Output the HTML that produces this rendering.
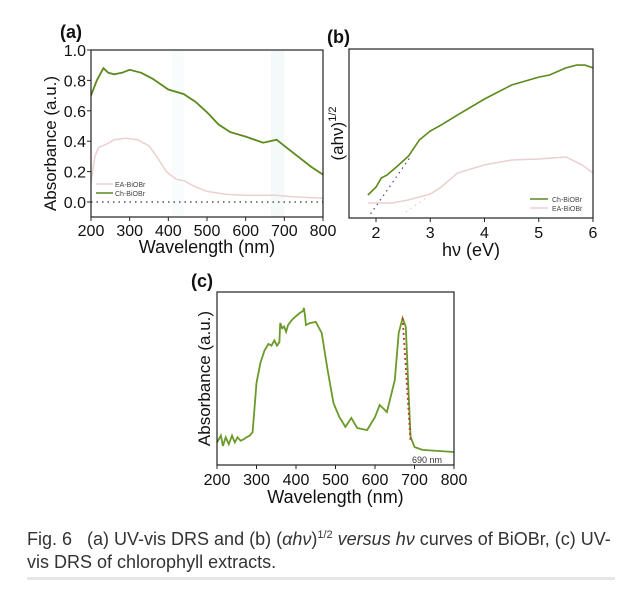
<!DOCTYPE html>
<html><head><meta charset="utf-8"><style>
body{margin:0;background:#fff;width:640px;height:584px;overflow:hidden;font-family:"Liberation Sans",sans-serif}
svg text{font-family:"Liberation Sans",sans-serif}
</style></head><body>
<svg id="fig" width="640" height="584" viewBox="0 0 640 584"></svg>
<script>
// Panel a data
const aWl = [200,215,232,245,260,280,300,330,360,400,440,470,500,530,560,600,645,680,700,740,770,800];
const aCh = [0.7,0.8,0.88,0.85,0.84,0.85,0.87,0.85,0.81,0.74,0.71,0.66,0.59,0.51,0.46,0.43,0.39,0.41,0.37,0.29,0.23,0.18];
const aEaWl = [200,210,220,240,260,290,320,350,370,395,420,440,470,500,550,600,680,720,800];
const aEa = [0.13,0.3,0.36,0.38,0.41,0.42,0.41,0.37,0.3,0.2,0.15,0.14,0.1,0.07,0.05,0.045,0.045,0.035,0.025];
const aYTicks = [0.0,0.2,0.4,0.6,0.8,1.0];
const aXTicks = [200,300,400,500,600,700,800];
// Panel b data
const bChE = [1.85,2.0,2.1,2.2,2.4,2.6,2.8,3.0,3.2,3.5,4.0,4.5,5.0,5.2,5.5,5.7,5.85,6.0];
const bCh = [0.136,0.183,0.237,0.254,0.308,0.367,0.462,0.515,0.55,0.609,0.704,0.787,0.834,0.846,0.888,0.905,0.905,0.888];
const bEaE = [1.85,2.3,2.6,3.0,3.2,3.5,4.0,4.5,5.0,5.5,5.8,6.0];
const bEa = [0.089,0.089,0.107,0.142,0.183,0.266,0.314,0.343,0.349,0.361,0.314,0.266];
const bChTanE = [1.9,2.65];
const bChTan = [0.024,0.37];
const bEaTanE = [2.55,2.9];
const bEaTan = [0.036,0.112];
const bXTicks = [2,3,4,5,6];
// Panel c data
const cWl = [200,210,215,222,230,238,245,252,260,268,275,283,290,300,310,320,330,338,345,352,358,360,365,370,375,380,390,400,410,418,420,423,425,435,450,465,480,495,510,525,540,555,580,600,612,630,650,660,670,678,685,690,700,720,800];
const cAbs = [0.13,0.17,0.11,0.16,0.12,0.17,0.13,0.16,0.14,0.15,0.16,0.17,0.19,0.474,0.59,0.66,0.7,0.69,0.72,0.69,0.71,0.821,0.79,0.80,0.77,0.81,0.84,0.86,0.88,0.89,0.908,0.86,0.809,0.82,0.827,0.763,0.549,0.358,0.277,0.22,0.272,0.214,0.202,0.277,0.347,0.306,0.491,0.763,0.85,0.798,0.416,0.162,0.104,0.087,0.075];
const cTanWl = [670,690];
const cTan = [0.85,0.13];
const cXTicks = [200,300,400,500,600,700,800];

const NS="http://www.w3.org/2000/svg";
const svg=document.getElementById('fig');
function el(tag,attrs,parent){const e=document.createElementNS(NS,tag);for(const k in attrs)e.setAttribute(k,attrs[k]);(parent||svg).appendChild(e);return e;}
function txt(x,y,s,size,anchor,extra){const t=el('text',Object.assign({x:x,y:y,'font-size':size,'text-anchor':anchor||'middle',fill:'#111'},extra||{}));t.textContent=s;return t;}
function lin(d0,d1,r0,r1){return v=>r0+(v-d0)*(r1-r0)/(d1-d0);}
function pathOf(xs,ys,sx,sy){return xs.map((v,i)=>(i?'L':'M')+sx(v).toFixed(1)+','+sy(ys[i]).toFixed(1)).join(' ');}

// ---- Panel a ----
{
const L=91,R=323,T=50,B=217;
const sx=lin(200,800,L,R), sy=lin(0,1,202,T);
const g=el('g',{});


let b1=el('rect',{x:sx(410),y:T,width:sx(440)-sx(410),height:B-T,fill:'#f8fcfc'},g);

let b2=el('rect',{x:sx(665),y:T,width:sx(700)-sx(665),height:B-T,fill:'#f4fafa'},g);

let z=el('line',{x1:L,x2:R,y1:sy(0),y2:sy(0),stroke:'#333','stroke-dasharray':'1.5,4','stroke-width':1.2},g);

let pe=el('path',{d:pathOf(aEaWl,aEa,sx,sy),fill:'none',stroke:'#ecd0d0','stroke-width':1.5},g);

let pc=el('path',{d:pathOf(aWl,aCh,sx,sy),fill:'none',stroke:'#5b8a1c','stroke-width':1.8},g);

let fr=el('rect',{x:L,y:T,width:R-L,height:B-T,fill:'none',stroke:'#222','stroke-width':1.2},g);

aYTicks.forEach(v=>{el('line',{x1:L-4,x2:L,y1:sy(v),y2:sy(v),stroke:'#222'},g);let t=txt(L-5,sy(v)+6,v.toFixed(1),16,'end');});
aXTicks.forEach(v=>{el('line',{x1:sx(v),x2:sx(v),y1:B,y2:B+4,stroke:'#222'},g);let t=txt(sx(v),B+19,String(v),16);});
let xt=txt((L+R)/2,B+36,'Wavelength (nm)',18);
let yt=txt(0,0,'Absorbance (a.u.)',17,'middle',{transform:'translate(56,'+((T+B)/2+10)+') rotate(-90)'});
let lb=txt(60,38,'(a)',18,'start',{'font-weight':'bold'});
el('line',{x1:96,x2:113,y1:184,y2:184,stroke:'#ecd0d0','stroke-width':1.5},g);
let l1=txt(115,187,'EA-BiOBr',7,'start',{fill:'#444'});
el('line',{x1:96,x2:113,y1:193,y2:193,stroke:'#5b8a1c','stroke-width':1.5},g);
let l2=txt(115,196,'Ch-BiOBr',7,'start',{fill:'#444'});
}
// ---- Panel b ----
{
const L=349,R=593,T=49,B=218;
const sx=lin(2,6,376,593), sy=lin(0,1,B,T);
const g=el('g',{});


let t1=el('path',{d:pathOf(bChTanE,bChTan,sx,sy),fill:'none',stroke:'#557','stroke-dasharray':'1.5,4','stroke-width':1.3},g);

let t2=el('path',{d:pathOf(bEaTanE,bEaTan,sx,sy),fill:'none',stroke:'#ecc','stroke-dasharray':'1.5,4','stroke-width':1.3},g);

let pe=el('path',{d:pathOf(bEaE,bEa,sx,sy),fill:'none',stroke:'#ecd0d0','stroke-width':1.5},g);

let pc=el('path',{d:pathOf(bChE,bCh,sx,sy),fill:'none',stroke:'#5b8a1c','stroke-width':1.6},g);

let fr=el('rect',{x:L,y:T,width:R-L,height:B-T,fill:'none',stroke:'#222','stroke-width':1.2},g);

bXTicks.forEach(v=>{el('line',{x1:sx(v),x2:sx(v),y1:B,y2:B+4,stroke:'#222'},g);let t=txt(sx(v),B+20,String(v),16);});
let xt=txt((L+R)/2,B+38,'hν (eV)',18);
let yt=el('text',{'font-size':17,'text-anchor':'middle',fill:'#111',transform:'translate(343,'+((T+B)/2)+') rotate(-90)'},g);
yt.innerHTML='(ahν)<tspan font-size="11" dy="-7">1/2</tspan>';

let lb=txt(327,43,'(b)',18,'start',{'font-weight':'bold'});
el('line',{x1:530,x2:548,y1:199,y2:199,stroke:'#5b8a1c','stroke-width':1.5},g);
let l1=txt(552,202,'Ch-BiOBr',7,'start',{fill:'#444'});
el('line',{x1:530,x2:548,y1:208,y2:208,stroke:'#ecd0d0','stroke-width':1.5},g);
let l2=txt(552,211,'EA-BiOBr',7,'start',{fill:'#444'});
}
// ---- Panel c ----
{
const L=217,R=454,T=292,B=465;
const sx=lin(200,800,L,R), sy=lin(0,1,B,T);
const g=el('g',{});


let pc=el('path',{d:pathOf(cWl,cAbs,sx,sy),fill:'none',stroke:'#6a9a2a','stroke-width':1.8},g);

let tl=el('path',{d:pathOf(cTanWl,cTan,sx,sy),fill:'none',stroke:'#c0392b','stroke-dasharray':'2,3','stroke-width':1.8},g);

let fr=el('rect',{x:L,y:T,width:R-L,height:B-T,fill:'none',stroke:'#222','stroke-width':1.2},g);

cXTicks.forEach(v=>{el('line',{x1:sx(v),x2:sx(v),y1:B,y2:B+4,stroke:'#222'},g);let t=txt(sx(v),B+20,String(v),16);});
let xt=txt((L+R)/2,B+38,'Wavelength (nm)',18);
let yt=txt(0,0,'Absorbance (a.u.)',17,'middle',{transform:'translate(210,'+((T+B)/2)+') rotate(-90)'});
let lb=txt(191,287,'(c)',18,'start',{'font-weight':'bold'});
let an=txt(412,463,'690 nm',9,'start',{fill:'#333'});
}
// caption
let c1=txt(27,545,'',18,'start',{fill:'#333'});
c1.innerHTML='<tspan>Fig. 6</tspan>&#160;&#160;&#160;(a) UV-vis DRS and (b) (<tspan font-style="italic">αhν</tspan>)<tspan font-size="11" dy="-7">1/2</tspan><tspan dy="7"> </tspan><tspan font-style="italic">versus hν</tspan> curves of BiOBr, (c) UV-';

let c2=txt(27,568,'vis DRS of chlorophyll extracts.',18,'start',{fill:'#333'});

let sep=el('rect',{x:27,y:577,width:588,height:3,fill:'#e6e6e6'});

</script>
</body></html>
